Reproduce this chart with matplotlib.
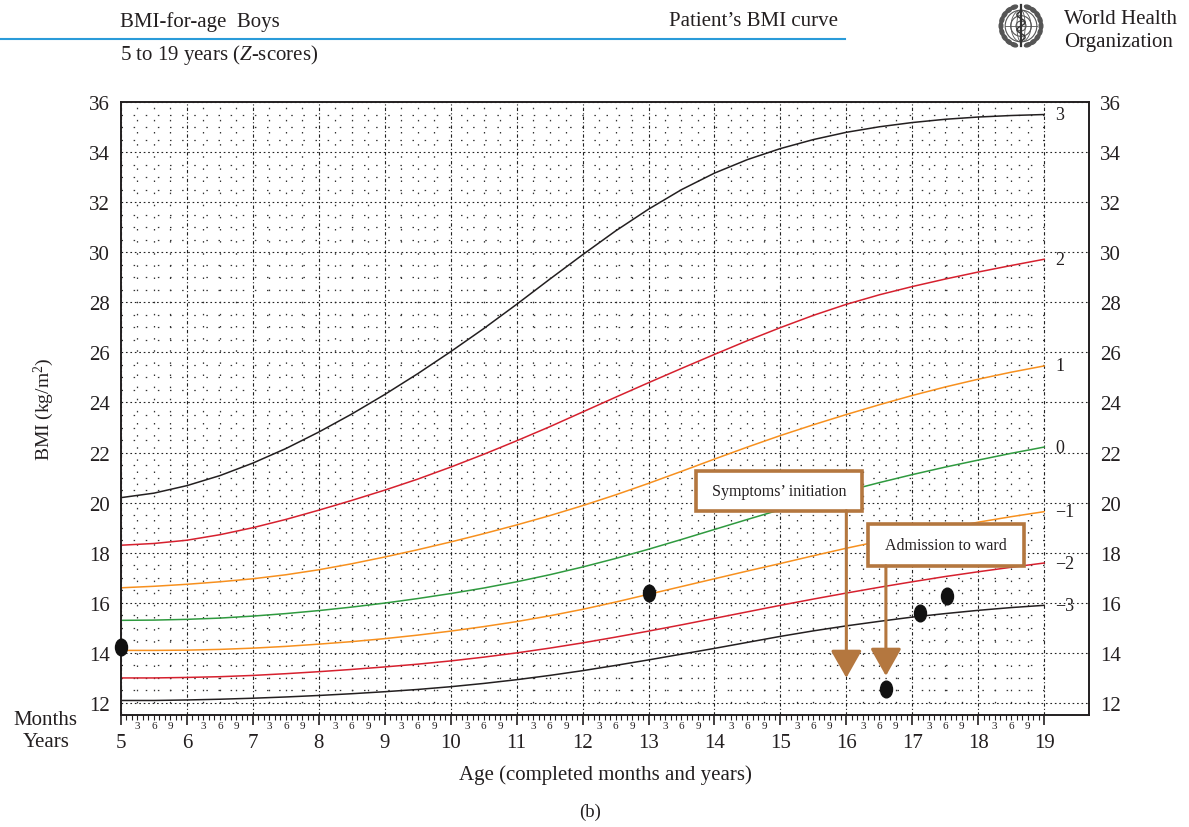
import matplotlib
matplotlib.use("Agg")
import matplotlib.pyplot as plt
import numpy as np
from matplotlib.patches import Rectangle, Circle, Ellipse
from matplotlib.path import Path
from matplotlib.transforms import Affine2D

plt.rcParams['font.family'] = ['Liberation Serif', 'DejaVu Serif']
plt.rcParams['mathtext.fontset'] = 'custom'
plt.rcParams['mathtext.rm'] = 'Liberation Serif'
plt.rcParams['mathtext.it'] = 'Liberation Serif:italic'

# WHO BMI-for-age boys, z-score curves (half-year steps)
ages = [5.0, 5.5, 6.0, 6.5, 7.0, 7.5, 8.0, 8.5, 9.0, 9.5, 10.0, 10.5, 11.0, 11.5,
        12.0, 12.5, 13.0, 13.5, 14.0, 14.5, 15.0, 15.5, 16.0, 16.5, 17.0, 17.5,
        18.0, 18.5, 19.0]
sd3 = [20.20, 20.38, 20.68, 21.08, 21.58, 22.16, 22.82, 23.54, 24.32, 25.15, 26.03, 26.95,
       27.92, 28.92, 29.90, 30.85, 31.72, 32.50, 33.16, 33.70, 34.14, 34.50, 34.79, 35.01,
       35.18, 35.31, 35.40, 35.46, 35.50]
sd2 = [18.30, 18.37, 18.50, 18.72, 19.00, 19.33, 19.70, 20.09, 20.50, 20.94, 21.42, 21.93,
       22.47, 23.03, 23.62, 24.21, 24.79, 25.36, 25.92, 26.47, 26.99, 27.48, 27.92, 28.30,
       28.63, 28.93, 29.21, 29.47, 29.72]
sd1 = [16.60, 16.66, 16.74, 16.84, 16.96, 17.12, 17.32, 17.56, 17.83, 18.12, 18.43, 18.76,
       19.11, 19.48, 19.88, 20.31, 20.77, 21.25, 21.74, 22.22, 22.68, 23.11, 23.52, 23.91,
       24.28, 24.62, 24.93, 25.21, 25.46]
sd0 = [15.30, 15.31, 15.34, 15.39, 15.47, 15.57, 15.69, 15.83, 15.99, 16.17, 16.37, 16.59,
       16.84, 17.12, 17.43, 17.77, 18.14, 18.53, 18.93, 19.33, 19.72, 20.10, 20.46, 20.80,
       21.12, 21.42, 21.70, 21.97, 22.22]
sdm1 = [14.10, 14.10, 14.11, 14.14, 14.19, 14.26, 14.35, 14.45, 14.57, 14.71, 14.87, 15.05,
        15.25, 15.48, 15.74, 16.03, 16.34, 16.65, 16.96, 17.27, 17.57, 17.88, 18.18, 18.46,
        18.73, 18.98, 19.22, 19.44, 19.64]
sdm2 = [13.00, 13.00, 13.02, 13.05, 13.10, 13.17, 13.25, 13.34, 13.44, 13.55, 13.68, 13.83,
        14.00, 14.19, 14.40, 14.63, 14.87, 15.12, 15.38, 15.64, 15.90, 16.15, 16.39, 16.62,
        16.84, 17.05, 17.24, 17.42, 17.59]
sdm3 = [12.10, 12.10, 12.12, 12.15, 12.19, 12.24, 12.30, 12.37, 12.45, 12.54, 12.65, 12.78,
        12.93, 13.10, 13.29, 13.50, 13.72, 13.95, 14.18, 14.42, 14.66, 14.88, 15.08, 15.26,
        15.43, 15.57, 15.70, 15.81, 15.90]
curves = [sd3, sd2, sd1, sd0, sdm1, sdm2, sdm3]
z_labels = ['3', '2', '1', '0', '\u22121', '\u22122', '\u22123']
curve_colors = ['#231f20', '#d6202e', '#f7901e', '#2f9a3f', '#f7901e', '#d6202e', '#231f20']

# patient's measurements
pat_age = [5.0, 13.0, 16.6, 17.12, 17.52]
pat_bmi = [14.25, 16.4, 12.56, 15.58, 16.26]

# events
event_text = ['Symptoms\u2019 initiation', 'Admission to ward']
event_age = [16.0, 16.6]
event_box = [(13.72, 19.68, 16.24, 21.28), (16.33, 17.48, 18.70, 19.16)]  # x0, y0, x1, y1
event_tip = [13.0, 13.08]

years = list(range(5, 20))
bmi_ticks = list(range(12, 37, 2))

W, H = 1189, 828
fig = plt.figure(figsize=(W / 100, H / 100), dpi=100)
ax = fig.add_axes([121 / W, 1 - 716 / H, (1089 - 121) / W, (716 - 103) / H])
xmax, ymin, ymax = 19.68, 11.52, 36.0
ax.set_xlim(5, xmax)
ax.set_ylim(ymin, ymax)

# grid: sparse minor dots inside 5..19, major lines across
minor_y = [v / 2 for v in range(24, 72) if v % 4 != 0]
minor_x = [y + q / 4 for y in years[:-1] for q in (1, 2, 3)]
ax.hlines(minor_y, 5, 19, colors='#333333', linewidth=0.9, linestyles=(0, (1.2, 8.5)), zorder=0)
ax.vlines(minor_x, ymin, ymax, colors='#333333', linewidth=0.9, linestyles=(0, (1.2, 8.5)), zorder=0)
ax.hlines(bmi_ticks, 5, xmax, colors='#222222', linewidth=0.8, linestyles=(0, (1.5, 2.5)), zorder=0)
ax.vlines(years, ymin, ymax, colors='#222222', linewidth=0.8, linestyles=(0, (3, 2, 1, 2)), zorder=0)

for vals, col, lab in zip(curves, curve_colors, z_labels):
    ax.plot(ages, vals, color=col, linewidth=1.1, zorder=2, solid_joinstyle='round')
    ax.text(19.17, vals[-1], lab, ha='left', va='center', fontsize=13, color='#231f20')

# patient's points (tall ellipses)
ell = Path.unit_circle().transformed(Affine2D().scale(0.72, 1.0))
ax.plot(pat_age, pat_bmi, linestyle='none', marker=ell, markersize=12,
        color='#111111', zorder=5, clip_on=False)

brown = '#b4773f'
for txt, xa, box, tip in zip(event_text, event_age, event_box, event_tip):
    x0, y0, x1, y1 = box
    ax.add_patch(Rectangle((x0, y0), x1 - x0, y1 - y0, facecolor='white',
                           edgecolor=brown, linewidth=2.6, zorder=6))
    ax.text((x0 + x1) / 2, (y0 + y1) / 2, txt, ha='center', va='center',
            fontsize=11.5, color='#231f20', zorder=7)
    ax.annotate('', xy=(xa, tip), xytext=(xa, y0),
                arrowprops=dict(arrowstyle='-|>,head_length=0.85,head_width=0.48',
                                mutation_scale=20, color=brown, linewidth=2.2,
                                shrinkA=0, shrinkB=0), zorder=6)

# axes, ticks
for s in ax.spines.values():
    s.set_linewidth(1.4)
    s.set_color('#231f20')
ax.set_yticks(bmi_ticks)
ax.tick_params(axis='y', length=0, pad=8, labelsize=15, labelright=True, colors='#231f20')
ax.set_xticks(years)
ax.set_xticklabels([str(y) for y in years])
months = [y + m / 12 for y in years[:-1] for m in range(1, 12)]
ax.set_xticks(months, minor=True)
ax.set_xticklabels([str(m) if m in (3, 6, 9) else '' for y in years[:-1] for m in range(1, 12)],
                   minor=True)
ax.tick_params(axis='x', which='major', length=7, width=1.2, direction='out', pad=6,
               labelsize=15, colors='#231f20')
ax.tick_params(axis='x', which='minor', length=3.5, width=0.8, direction='out', pad=0.5,
               labelsize=8, colors='#231f20')

ax.set_xlabel('Age (completed months and years)', fontsize=15, labelpad=9, color='#231f20')
ax.set_ylabel('BMI (kg/m$^2$)', fontsize=14, labelpad=24, color='#231f20')


def fx(x):
    return x / W


def fy(y):
    return 1 - y / H


fig.text(fx(45), fy(721), 'Months', ha='center', va='center', fontsize=15, color='#231f20')
fig.text(fx(46), fy(743), 'Years', ha='center', va='center', fontsize=15, color='#231f20')
fig.text(fx(590), fy(812), '(b)', ha='center', va='center', fontsize=13.5, color='#231f20')

# header
fig.text(fx(120), fy(22), 'BMI-for-age  Boys', ha='left', va='center', fontsize=15, color='#231f20')
fig.text(fx(838), fy(22), 'Patient\u2019s BMI curve', ha='right', va='center', fontsize=15,
         color='#231f20')
fig.text(fx(120), fy(55), '5 to 19 years ($Z$-scores)', ha='left', va='center', fontsize=15,
         color='#231f20')
fig.add_artist(plt.Line2D([0, fx(845)], [fy(40), fy(40)], color='#2a9bd9', linewidth=1.5))
fig.text(fx(1064), fy(20), 'World Health', ha='left', va='center', fontsize=15, color='#231f20')
fig.text(fx(1064), fy(43), 'Organization', ha='left', va='center', fontsize=15, color='#231f20')

# WHO emblem (simplified)
lg = fig.add_axes([fx(996), fy(52), 50 / W, 50 / H])
lg.set_xlim(-1.5, 1.5)
lg.set_ylim(-1.5, 1.5)
lg.set_aspect('equal')
lg.axis('off')
g = '#555555'
for r in (0.95, 0.62, 0.3):
    lg.add_patch(Circle((0, 0), r, fill=False, edgecolor=g, linewidth=0.8))
for w in (0.5, 1.2):
    lg.add_patch(Ellipse((0, 0), w, 1.9, fill=False, edgecolor=g, linewidth=0.6))
lg.plot([-0.95, 0.95], [0, 0], color=g, linewidth=0.6)
lg.plot([0, 0], [-1.2, 1.25], color='#333333', linewidth=1.6)
sy = np.linspace(-0.9, 0.9, 40)
lg.plot(0.25 * np.sin(sy * 7), sy, color='#333333', linewidth=1.0)
for side in (-1, 1):
    for a in np.linspace(-70, 70, 9):
        t = np.radians(a)
        cx, cy = side * 1.2 * np.cos(t), 1.2 * np.sin(t)
        lg.add_patch(Ellipse((cx, cy), 0.22, 0.42, angle=a * side, color=g))

fig.savefig('out.png', dpi=100)
